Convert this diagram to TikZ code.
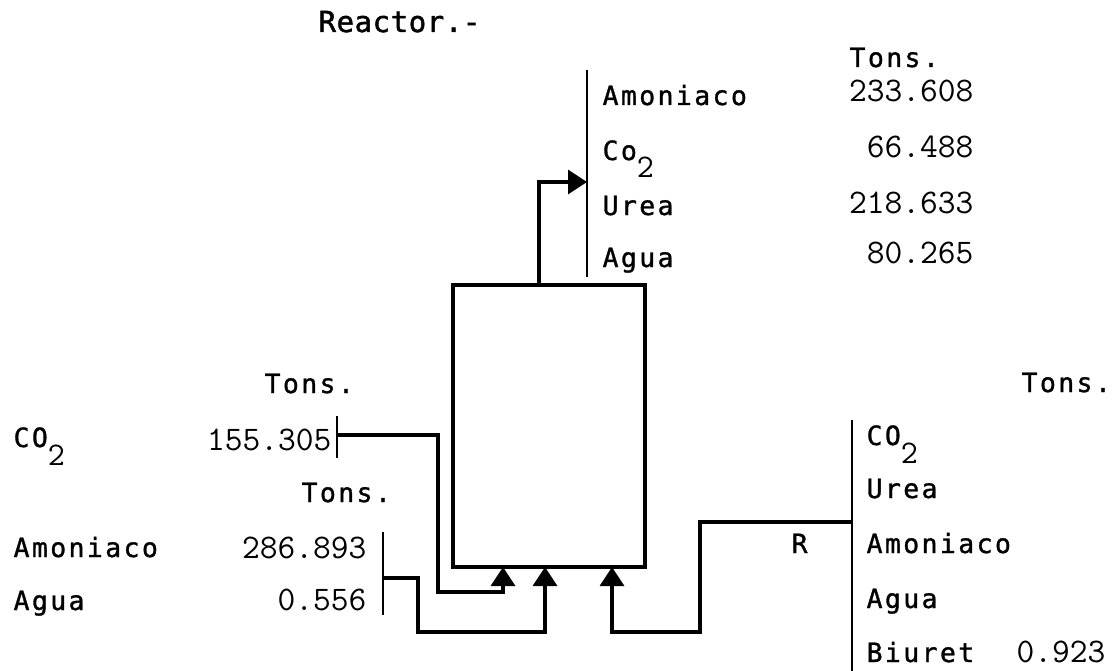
\documentclass[tikz,border=0pt]{standalone}
\usepackage{fontspec}
\usetikzlibrary{arrows.meta}
\newfontfamily\wordfont[LetterSpace=9,FakeBold=1.2]{DejaVu Sans Mono}
\newfontfamily\titlefont[LetterSpace=2,FakeBold=1.6]{DejaVu Sans Mono}
\newcommand\wf{\wordfont\fontsize{26.5}{32}\selectfont}
\newcommand\tf{\titlefont\fontsize{29}{34}\selectfont}
\newcommand\nfnt{\ttfamily\fontsize{34.5}{40}\selectfont}
\newcommand\subtwo{\raisebox{-18pt}{\ttfamily\fontsize{33}{38}\selectfont 2}}
\begin{document}
\begin{tikzpicture}[x=1pt,y=-1pt,line width=3.2pt,
  w/.style={anchor=base west,inner sep=0pt,font=\wf},
  n/.style={anchor=base east,inner sep=0pt,font=\nfnt},
  tip/.style={-{Triangle[width=24pt,length=19pt]}},
  bar/.style={line width=2.4pt}]
\useasboundingbox (0,0) rectangle (1118,671);
% title
\node[anchor=base west,inner sep=0pt,font=\tf] (title) at (317,32) {Reactor.-};
% reactor
\node[draw,line width=3.6pt,minimum width=192pt,minimum height=282pt,inner sep=0pt] (reactor) at (549,426) {};
% top outlet
\coordinate (topbarA) at (587,70);
\coordinate (topbarB) at (587,277);
\draw[bar] (topbarA) -- (topbarB);
\node[w] (tam) at (601,105) {Amoniaco};
\node[w] (tco) at (601,160) {Co\subtwo};
\node[w] (tur) at (601,215) {Urea};
\node[w] (tag) at (601,267) {Agua};
\node[w] (ttons) at (848,67) {Tons.};
\node[n] (tv1) at (975,102) {233.608};
\node[n] (tv2) at (975,158) {66.488};
\node[n] (tv3) at (975,213) {218.633};
\node[n] (tv4) at (975,263) {80.265};
\coordinate (outA) at (539,285);
\coordinate (outB) at (587,182);
\draw[tip] (outA) |- (outB);
% left CO2 feed
\node[w] (ltons1) at (263,393) {Tons.};
\node[w] (lco) at (12,447) {CO\subtwo};
\node[n] (lv1) at (333,450) {155.305};
\coordinate (bar1a) at (337,416);
\coordinate (bar1b) at (337,458);
\draw[bar] (bar1a) -- (bar1b);
\coordinate (f1) at (337,435);
\coordinate (in1) at (503,567);
\draw[tip] (f1) -| (438,592) -| (in1);
% left ammonia / water feed
\node[w] (ltons2) at (300,502) {Tons.};
\node[w] (lam) at (12,557) {Amoniaco};
\node[n] (lv2) at (368,558) {286.893};
\node[w] (lag) at (12,610) {Agua};
\node[n] (lv3) at (368,610) {0.556};
\coordinate (bar2a) at (383,532);
\coordinate (bar2b) at (383,615);
\draw[bar] (bar2a) -- (bar2b);
\coordinate (f2) at (383,578);
\coordinate (in2) at (545,567);
\draw[tip] (f2) -| (418,632) -| (in2);
% recycle
\coordinate (rbarA) at (852,420);
\coordinate (rbarB) at (852,675);
\draw[bar] (rbarA) -- (rbarB);
\coordinate (f3) at (852,522);
\coordinate (in3) at (612,567);
\draw[tip] (f3) -| (700,632) -| (in3);
\node[w] (rr) at (790,553) {R};
\node[w] (rtons) at (1020,392) {Tons.};
\node[w] (rco) at (865,445) {CO\subtwo};
\node[w] (rur) at (865,498) {Urea};
\node[w] (ram) at (865,553) {Amoniaco};
\node[w] (rag) at (865,608) {Agua};
\node[w] (rbi) at (865,662) {Biuret};
\node[n] (rv) at (1107,662) {0.923};
\end{tikzpicture}
\end{document}
